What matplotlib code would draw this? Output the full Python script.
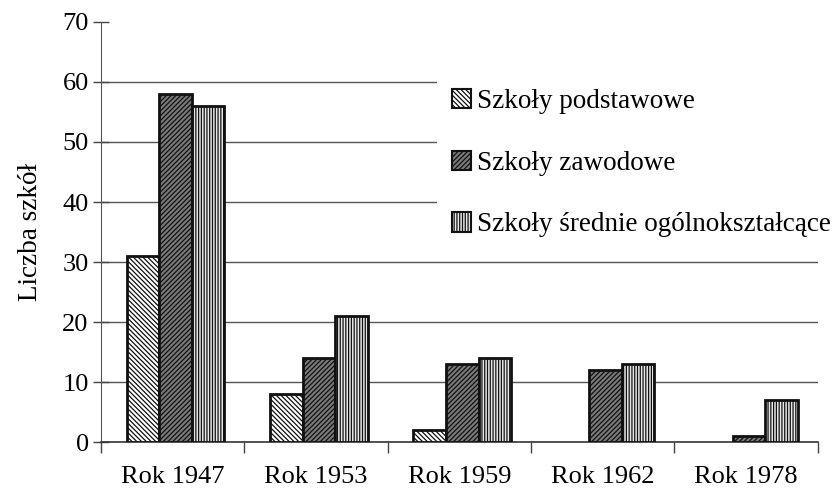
import matplotlib
matplotlib.use("Agg")
import matplotlib.pyplot as plt
import numpy as np

plt.rcParams['font.family'] = ['Liberation Serif', 'DejaVu Serif']
plt.rcParams['hatch.linewidth'] = 0.9

years = ["Rok 1947", "Rok 1953", "Rok 1959", "Rok 1962", "Rok 1978"]
podstawowe = [31, 8, 2, 0, 0]
zawodowe = [58, 14, 13, 12, 1]
srednie = [56, 21, 14, 13, 7]
labels = ["Szkoły podstawowe", "Szkoły zawodowe", "Szkoły średnie ogólnokształcące"]

fig = plt.figure(figsize=(8.36, 4.93), dpi=100)
ax = fig.add_axes([0.121, 0.1034, 0.857, 0.852])

x = np.arange(len(years))
w = 0.227
styles = [
    dict(facecolor="white", hatch="\\" * 7),
    dict(facecolor="#7a7a7a", hatch="/" * 7),
    dict(facecolor="#e8e8e8", hatch="|" * 6),
]
series = [podstawowe, zawodowe, srednie]
for i, (vals, st, lab) in enumerate(zip(series, styles, labels)):
    bars = ax.bar(x + (i - 1) * w + 0.02, vals, w, edgecolor="#111111", linewidth=2,
                  label=lab, zorder=3, **st)
    for b, v in zip(bars, vals):
        if v == 0:
            b.set_visible(False)

ax.set_xlim(-0.5, 4.5)
ax.set_ylim(0, 70)
ax.set_yticks(range(0, 71, 10))
ax.set_xticks(x)
ax.set_xticklabels(years)
ax.set_xticks(np.arange(-0.5, 5, 1), minor=True)
ax.tick_params(axis="x", which="major", length=0, pad=17, labelsize=19)
ax.tick_params(axis="x", which="minor", length=8, width=1, color="#444444")
ax.tick_params(axis="y", direction="inout", length=12, width=1, color="#444444",
               pad=3, labelsize=19)

for v in range(10, 70, 10):
    ax.axhline(v, color="#555555", linewidth=1, zorder=1)

for s in ["top", "right"]:
    ax.spines[s].set_visible(False)
ax.spines["left"].set_color("#555555")
ax.spines["bottom"].set_color("#333333")
ax.spines["bottom"].set_linewidth(1.2)

ax.set_ylabel("Liczba szkół", fontsize=19.5, labelpad=14)

leg = ax.legend(loc="upper left", bbox_to_anchor=(437 / 836, 1 - 74 / 493),
                bbox_transform=fig.transFigure, fontsize=19.5, frameon=True,
                fancybox=False, edgecolor="none", facecolor="white", framealpha=1,
                handlelength=0.72, handleheight=0.72, handletextpad=0.2,
                labelspacing=1.35, borderpad=0.55, borderaxespad=0)
leg.set_zorder(5)
for h in leg.legend_handles:
    h.set_linewidth(1.5)

fig.savefig("out.png", dpi=100)
